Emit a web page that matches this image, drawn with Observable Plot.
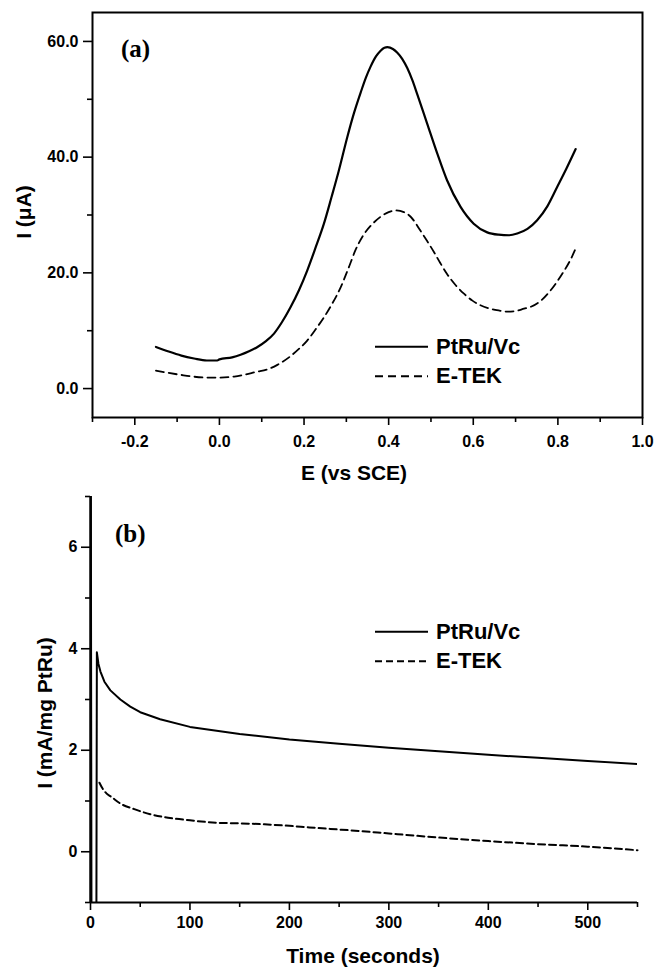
<!DOCTYPE html>
<html>
<head>
<meta charset="utf-8">
<script src="https://cdn.jsdelivr.net/npm/d3@7"></script>
<script src="https://cdn.jsdelivr.net/npm/@observablehq/plot@0.6"></script>
<style>
  html, body { margin: 0; padding: 0; background: #fff; }
  #chart { width: 655px; height: 967px; overflow: hidden; }
  #chart svg { display: block; overflow: visible; }
  #chart svg g[aria-label$="tick label"] text,
  #chart svg g[aria-label$="tick label"] {
    font-size: 16px !important;
    font-weight: bold !important;
    font-family: 'Liberation Sans', Arial, Helvetica, sans-serif !important;
    fill: black;
  }
</style>
</head>
<body>
<div id="chart"></div>
<script>
// ---------- Panel (a): linear sweep, I (µA) vs E (vs SCE) ----------
const aPtRuE = [-0.150, -0.120, -0.090, -0.060, -0.030, -0.005, 0.000, 0.030, 0.050, 0.070, 0.089, 0.110, 0.129, 0.148, 0.168, 0.188, 0.2075, 0.227, 0.247, 0.265, 0.282, 0.302, 0.318, 0.334, 0.346, 0.357, 0.370, 0.381, 0.390, 0.397, 0.410, 0.420, 0.432, 0.444, 0.456, 0.4675, 0.491, 0.515, 0.538, 0.570, 0.601, 0.633, 0.660, 0.685, 0.704, 0.728, 0.751, 0.775, 0.798, 0.820, 0.842];
const aPtRuI = [7.2, 6.4, 5.7, 5.2, 4.85, 4.85, 5.05, 5.4, 5.85, 6.45, 7.15, 8.2, 9.5, 11.5, 14.05, 17.0, 20.4, 24.3, 28.5, 33.1, 37.6, 43.4, 47.6, 51.2, 53.7, 55.6, 57.4, 58.4, 58.9, 59.0, 58.7, 58.1, 57.0, 55.4, 53.3, 50.9, 45.8, 40.6, 36.0, 31.4, 28.5, 27.0, 26.6, 26.5, 26.8, 27.6, 29.1, 31.5, 34.8, 38.0, 41.4];

const aETEKE = [-0.150, -0.120, -0.090, -0.060, -0.028, 0.000, 0.035, 0.060, 0.085, 0.117, 0.137, 0.168, 0.190, 0.2075, 0.227, 0.247, 0.266, 0.286, 0.305, 0.322, 0.341, 0.361, 0.381, 0.400, 0.418, 0.436, 0.452, 0.475, 0.491, 0.507, 0.522, 0.538, 0.558, 0.578, 0.598, 0.617, 0.640, 0.660, 0.680, 0.700, 0.720, 0.735, 0.760, 0.783, 0.810, 0.830, 0.842];
const aETEKI = [3.1, 2.7, 2.35, 2.05, 1.9, 1.9, 2.07, 2.4, 2.85, 3.4, 4.1, 5.6, 7.0, 8.3, 10.2, 12.3, 14.6, 17.4, 20.8, 24.0, 26.6, 28.4, 29.7, 30.5, 30.8, 30.5, 29.7, 27.3, 25.5, 23.6, 21.7, 19.8, 17.9, 16.4, 15.2, 14.4, 13.8, 13.5, 13.3, 13.4, 13.8, 14.1, 15.2, 17.0, 19.8, 22.3, 24.2];

const aXMajor = [-0.2, 0.0, 0.2, 0.4, 0.6, 0.8, 1.0];
const aXMinor = [-0.3, -0.1, 0.1, 0.3, 0.5, 0.7, 0.9];
const aYMajor = [0, 20, 40, 60];
const aYMinor = [10, 30, 50];

// ---------- Panel (b): chronoamperometry, I (mA/mg PtRu) vs time ----------
const bPtRuT = [0.3, 1.0, 5.9, 6.4, 8, 10, 14, 20, 30, 40, 50, 70, 100, 150, 200, 250, 300, 350, 400, 450, 500, 550];
const bPtRuI = [7.6, -1.5, -1.5, 3.93, 3.7, 3.55, 3.35, 3.18, 3.0, 2.86, 2.75, 2.61, 2.46, 2.32, 2.21, 2.13, 2.05, 1.98, 1.91, 1.85, 1.79, 1.73];

const bETEKT = [9, 12, 16, 21, 30, 44, 60, 78, 100, 128, 150, 175, 200, 220, 241, 270, 300, 350, 400, 450, 500, 550];
const bETEKI = [1.36, 1.25, 1.15, 1.08, 0.95, 0.84, 0.74, 0.67, 0.62, 0.57, 0.56, 0.54, 0.51, 0.48, 0.45, 0.41, 0.36, 0.28, 0.21, 0.15, 0.10, 0.03];

const bXMajor = [0, 100, 200, 300, 400, 500];
const bXMinor = [50, 150, 250, 350, 450, 550];
const bYMajor = [0, 2, 4, 6];
const bYMinor = [-1, 1, 3, 5, 7];

const seriesNames = ["PtRu/Vc", "E-TEK"];
const labelsA = {x: "E (vs SCE)", y: "I (\u03BCA)", tag: "(a)"};
const labelsB = {x: "Time (seconds)", y: "I (mA/mg PtRu)", tag: "(b)"};

// tables
const aPtRu = aPtRuE.map((e, i) => ({E: e, I: aPtRuI[i]}));
const aETEK = aETEKE.map((e, i) => ({E: e, I: aETEKI[i]}));
const bPtRu = bPtRuT.map((t, i) => ({t: t, I: bPtRuI[i]}));
const bETEK = bETEKT.map((t, i) => ({t: t, I: bETEKI[i]}));

const SANS = "'Liberation Sans', Arial, Helvetica, sans-serif";
const SERIF = "'Liberation Serif', 'Times New Roman', serif";
const baseStyle = {fontFamily: SANS, fontWeight: "bold", fontSize: "16px", color: "black", background: "white"};
const fmt1 = d => d.toFixed(1);
const blank = () => "";
const tickText = {fontSize: 16, fontWeight: "bold", fill: "black"};

const plotA = Plot.plot({
  width: 655, height: 490,
  marginLeft: 92, marginRight: 13, marginTop: 12, marginBottom: 73,
  x: {domain: [-0.3, 1.0]},
  y: {domain: [-5, 65]},
  style: baseStyle,
  marks: [
    Plot.axisX({ticks: aXMajor, tickSize: 8, tickPadding: 10, tickFormat: fmt1, label: null, strokeWidth: 1.6, ...tickText}),
    Plot.axisX({ticks: aXMinor, tickSize: 5, tickFormat: blank, label: null, strokeWidth: 1.6}),
    Plot.axisY({ticks: aYMajor, tickSize: 9, tickPadding: 5, tickFormat: fmt1, label: null, strokeWidth: 1.6, ...tickText}),
    Plot.axisY({ticks: aYMinor, tickSize: 5, tickFormat: blank, label: null, strokeWidth: 1.6}),
    Plot.frame({strokeWidth: 2}),
    Plot.line(aPtRu, {x: "E", y: "I", stroke: "black", strokeWidth: 2.2, curve: "monotone-x"}),
    Plot.line(aETEK, {x: "E", y: "I", stroke: "black", strokeWidth: 1.8, strokeDasharray: "8,5", curve: "monotone-x"})
  ]
});

const plotB = Plot.plot({
  width: 655, height: 477,
  marginLeft: 90, marginRight: 18, marginTop: 6, marginBottom: 65,
  x: {domain: [0, 550]},
  y: {domain: [-1, 7]},
  style: baseStyle,
  marks: [
    Plot.axisX({ticks: bXMajor, tickSize: 8, tickPadding: 6, label: null, strokeWidth: 1.6, ...tickText}),
    Plot.axisX({ticks: bXMinor, tickSize: 5, tickFormat: blank, label: null, strokeWidth: 1.6}),
    Plot.axisY({ticks: bYMajor, tickSize: 9, tickPadding: 4, label: null, strokeWidth: 1.6, ...tickText}),
    Plot.axisY({ticks: bYMinor, tickSize: 5, tickFormat: blank, label: null, strokeWidth: 1.6}),
    Plot.ruleY([-1], {strokeWidth: 2}),
    Plot.ruleX([0], {strokeWidth: 2.5}),
    Plot.line(bPtRu, {x: "t", y: "I", stroke: "black", strokeWidth: 2, clip: true, curve: "linear"}),
    Plot.line(bETEK, {x: "t", y: "I", stroke: "black", strokeWidth: 2, strokeDasharray: "7,4", curve: "monotone-x"})
  ]
});

const chart = document.getElementById("chart");
chart.appendChild(plotA);
chart.appendChild(plotB);

// make sure tick labels use the bold 16px face
[plotA, plotB].forEach(p => {
  d3.select(p).selectAll("g[aria-label$='tick label']")
    .attr("font-size", 16).attr("font-weight", "bold")
    .style("font-size", "16px").style("font-weight", "bold");
});

function decorate(svgEl, lab, o) {
  const svg = d3.select(svgEl);
  // axis titles
  svg.append("text").attr("x", o.xTitle[0]).attr("y", o.xTitle[1])
    .attr("text-anchor", "middle").style("font", `bold 21px ${SANS}`).attr("fill", "black").text(lab.x);
  svg.append("text").attr("transform", `translate(${o.yTitle[0]},${o.yTitle[1]}) rotate(-90)`)
    .attr("text-anchor", "middle").style("font", `bold 21px ${SANS}`).attr("fill", "black").text(lab.y);
  // panel tag
  svg.append("text").attr("x", o.tag[0]).attr("y", o.tag[1]).attr("text-anchor", "start")
    .style("font", `bold 25px ${SERIF}`).attr("fill", "black").text(lab.tag);
  // legend
  const lg = svg.append("g").attr("text-anchor", "start");
  seriesNames.forEach((name, i) => {
    const yLine = o.legend[1] + i * 29.5;
    lg.append("line").attr("x1", o.legend[0]).attr("x2", o.legend[0] + 53)
      .attr("y1", yLine).attr("y2", yLine).attr("stroke", "black").attr("stroke-width", 2)
      .attr("stroke-dasharray", i === 0 ? null : o.dash);
    lg.append("text").attr("x", o.legend[0] + 61).attr("y", yLine + 6.8).attr("text-anchor", "start")
      .style("font", `bold 22px ${SANS}`).attr("fill", "black").text(name);
  });
}

decorate(plotA, labelsA, {xTitle: [354, 480], yTitle: [31, 212], tag: [121, 57], legend: [375, 346.7], dash: "8,5"});
decorate(plotB, labelsB, {xTitle: [363, 473], yTitle: [52, 223], tag: [115, 52], legend: [375, 141.7], dash: "7,4"});
</script>
</body>
</html>
